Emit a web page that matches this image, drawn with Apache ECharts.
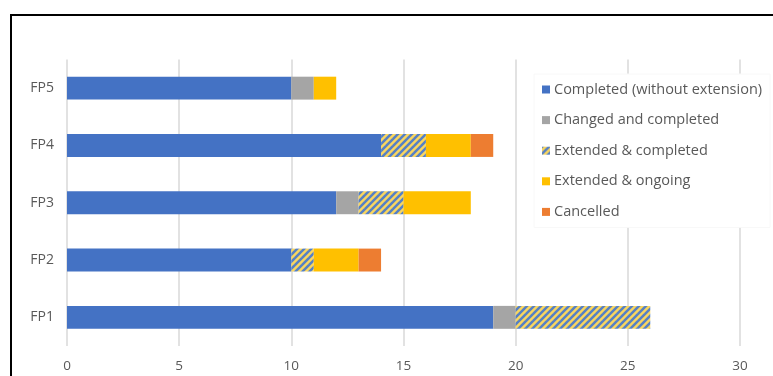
<!DOCTYPE html>
<html>
<head>
<meta charset="utf-8">
<style>
  html, body { margin: 0; padding: 0; background: #fff; }
  #chart { width: 773px; height: 376px; }
</style>
<script src="https://cdn.jsdelivr.net/npm/echarts@6/dist/echarts.min.js"></script>
</head>
<body>
<div id="chart"></div>
<script>
// Framework programmes, bottom to top
const categories = ['FP1', 'FP2', 'FP3', 'FP4', 'FP5'];

// Number of projects per status
const completedNoExt = [19, 10, 12, 14, 10];
const changedCompleted = [1, 0, 1, 0, 1];
const extendedCompleted = [6, 1, 2, 2, 0];
const extendedOngoing = [0, 2, 3, 2, 1];
const cancelled = [0, 1, 0, 1, 0];

const seriesNames = [
  'Completed (without extension)',
  'Changed and completed',
  'Extended & completed',
  'Extended & ongoing',
  'Cancelled'
];

const xTicks = [0, 5, 10, 15, 20, 25, 30];

// Yellow tile with blue diagonal stripes
function stripePattern() {
  const size = 7;
  const c = document.createElement('canvas');
  c.width = size; c.height = size;
  const g = c.getContext('2d');
  g.fillStyle = '#FAD65E';
  g.fillRect(0, 0, size, size);
  g.strokeStyle = '#5580C6';
  g.lineWidth = 2.5;
  for (let k = -1; k <= 1; k++) {
    g.beginPath();
    g.moveTo(k * size - 1, size + 1);
    g.lineTo(k * size + size + 1, -1);
    g.stroke();
  }
  return { image: c, repeat: 'repeat' };
}

const colors = ['#4472C4', '#A5A5A5', stripePattern(), '#FFC000', '#ED7D31'];
const values = [completedNoExt, changedCompleted, extendedCompleted, extendedOngoing, cancelled];

const chart = echarts.init(document.getElementById('chart'));
chart.setOption({
  animation: false,
  grid: { left: 67, right: 33, top: 59.5, bottom: 30, containLabel: false },
  xAxis: {
    type: 'value',
    min: xTicks[0],
    max: xTicks[xTicks.length - 1],
    interval: 5,
    axisLine: { show: false },
    axisTick: { show: false },
    axisLabel: { color: '#595959', fontSize: 13.5, fontFamily: 'Open Sans', margin: 13 },
    splitLine: { lineStyle: { color: '#D9D9D9', width: 1.5 } }
  },
  yAxis: {
    type: 'category',
    data: categories,
    axisLine: { show: false },
    axisTick: { show: false },
    axisLabel: { color: '#595959', fontSize: 14, fontFamily: 'Open Sans', margin: 13 },
    splitLine: { show: false }
  },
  legend: {
    orient: 'vertical',
    left: 534,
    top: 74,
    padding: [8, 8, 8, 8],
    backgroundColor: '#fff',
    borderColor: '#F8F8F8',
    borderWidth: 1,
    itemWidth: 8,
    itemHeight: 8,
    itemGap: 15.6,
    icon: 'rect',
    textStyle: { color: '#595959', fontSize: 14.5, fontFamily: 'Open Sans', padding: [0, 0, 0, -1] },
    data: seriesNames
  },
  graphic: [{
    type: 'rect',
    shape: { x: 11, y: 15, width: 800, height: 420 },
    style: { fill: 'none', stroke: '#000', lineWidth: 2 },
    z: 100
  }],
  series: seriesNames.map((name, i) => ({
    name,
    type: 'bar',
    stack: 'total',
    barWidth: '40%',
    data: values[i],
    itemStyle: { color: colors[i] },
    emphasis: { disabled: true }
  }))
});
</script>
</body>
</html>
